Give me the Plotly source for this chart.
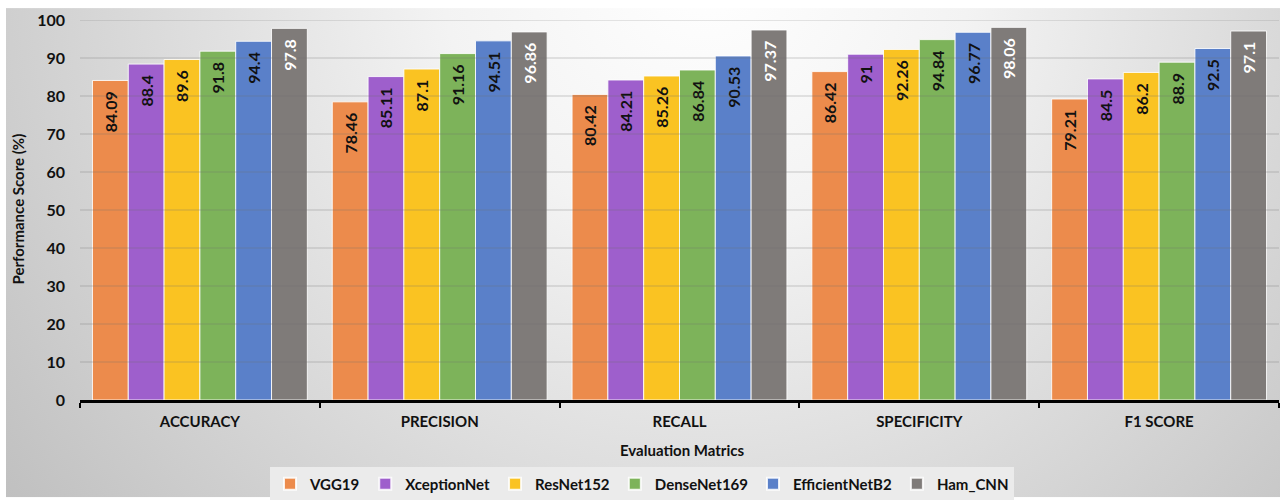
import base64
import plotly.graph_objects as go

# Evaluation metrics and model scores (%)
metrics = ["ACCURACY", "PRECISION", "RECALL", "SPECIFICITY", "F1 SCORE"]
models = ["VGG19", "XceptionNet", "ResNet152", "DenseNet169", "EfficientNetB2", "Ham_CNN"]

vgg19 = [84.09, 78.46, 80.42, 86.42, 79.21]
xception = [88.4, 85.11, 84.21, 91, 84.5]
resnet152 = [89.6, 87.1, 85.26, 92.26, 86.2]
densenet169 = [91.8, 91.16, 86.84, 94.84, 88.9]
efficientnetb2 = [94.4, 94.51, 90.53, 96.77, 92.5]
ham_cnn = [97.8, 96.86, 97.37, 98.06, 97.1]

series = [vgg19, xception, resnet152, densenet169, efficientnetb2, ham_cnn]
colors = ["#EC8B4C", "#9E5FCC", "#FAC322", "#7DB35A", "#5A80C9", "#7F7B79"]
label_colors = ["#111111"] * 5 + ["#ffffff"]

y_ticks = list(range(0, 101, 10))

FONT = "Lato"

fig = go.Figure()
for name, vals, col, lcol in zip(models, series, colors, label_colors):
    fig.add_trace(go.Bar(
        name=name,
        x=metrics,
        y=vals,
        marker=dict(color=col, line=dict(color="rgba(255,255,255,0.85)", width=1)),
        text=[f"{v:g}\u00a0\u00a0" for v in vals],
        textposition="inside",
        insidetextanchor="end",
        textangle=-90,
        insidetextfont=dict(family=FONT, size=16, color=lcol, weight="bold"),
        cliponaxis=False,
    ))

# Soft radial background behind the whole chart
svg = (
    '<svg xmlns="http://www.w3.org/2000/svg" width="1274" height="493" '
    'viewBox="0 0 1274 493" preserveAspectRatio="none"><defs>'
    '<radialGradient id="g" gradientUnits="userSpaceOnUse" cx="700" cy="-40" r="880">'
    '<stop offset="0" stop-color="#ffffff"/><stop offset="0.3" stop-color="#f3f3f3"/>'
    '<stop offset="1" stop-color="#c0c0c0"/></radialGradient></defs>'
    '<rect width="1274" height="493" fill="url(#g)"/></svg>'
)
bg_src = "data:image/svg+xml;base64," + base64.b64encode(svg.encode()).decode()

W, H = 1280, 501
ML, MR, MT, MB = 80, 1, 20, 98
PW, PH = W - ML - MR, H - MT - MB

def px_x(p):
    return (p - ML) / PW

def px_y(p):
    return (H - MB - p) / PH

# Gridlines drawn over the bars
grid_shapes = [
    dict(type="line", xref="paper", yref="y", x0=0, x1=1, y0=t, y1=t,
         line=dict(color="rgba(110,110,110,0.35)", width=1), layer="above")
    for t in y_ticks if t > 0
]

fig.update_layout(
    width=W, height=H,
    margin=dict(l=ML, r=MR, t=MT, b=MB),
    paper_bgcolor="#ffffff",
    plot_bgcolor="rgba(0,0,0,0)",
    barmode="group",
    bargap=0.104,
    bargroupgap=0,
    font=dict(family=FONT, color="#111111"),
    images=[dict(source=bg_src, xref="paper", yref="paper",
                 x=px_x(6), y=px_y(8), sizex=(W - 6) / PW, sizey=(H - 8) / PH,
                 xanchor="left", yanchor="top", sizing="stretch", layer="below")],
    shapes=grid_shapes,
    showlegend=True,
    legend=dict(
        orientation="h", x=px_x(642), xanchor="center", y=px_y(471), yanchor="top",
        bgcolor="#ebebeb", borderwidth=0,
        font=dict(family=FONT, size=15, color="#111111", weight="bold"),
        itemsizing="constant", itemwidth=30, traceorder="normal",
    ),
    xaxis=dict(
        showline=True, linecolor="#000000", linewidth=3,
        ticks="outside", tickson="boundaries", ticklen=5, tickwidth=2, tickcolor="#000000",
        tickfont=dict(family=FONT, size=15, color="#111111", weight="bold"),
        ticklabelstandoff=6,
        showgrid=False,
    ),
    yaxis=dict(
        range=[0, 100], tickvals=y_ticks, showgrid=False, zeroline=False,
        showline=False, ticks="",
        tickfont=dict(family=FONT, size=16, color="#111111", weight="bold"),
        ticklabelstandoff=14,
    ),
    annotations=[
        dict(text="Performance Score (%)", xref="paper", yref="paper",
             x=px_x(18), y=px_y(211), xanchor="center", yanchor="middle",
             textangle=-90, showarrow=False,
             font=dict(family=FONT, size=15, color="#111111", weight="bold")),
        dict(text="Evaluation Matrics", xref="paper", yref="paper",
             x=px_x(682), y=px_y(453), xanchor="center", yanchor="middle",
             showarrow=False,
             font=dict(family=FONT, size=15, color="#111111", weight="bold")),
    ],
)

fig.write_html("out.html")
